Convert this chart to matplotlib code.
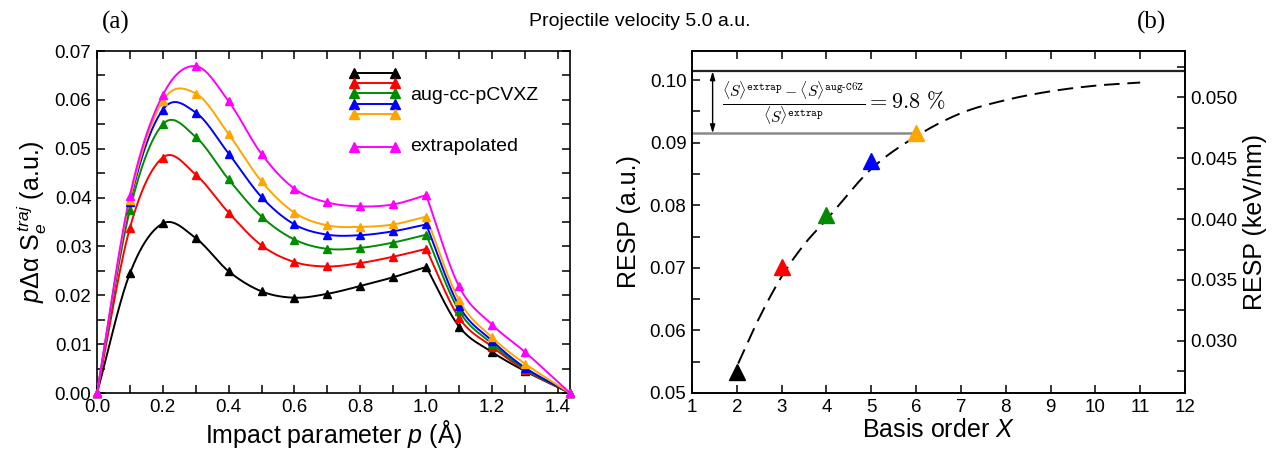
import numpy as np
import matplotlib
matplotlib.use("Agg")
import matplotlib.pyplot as plt
from matplotlib.ticker import MultipleLocator, FormatStrFormatter

# ---------------- data: panel (a) ----------------
impact_p = [0.0, 0.1, 0.2, 0.3, 0.4, 0.5, 0.6, 0.7, 0.8, 0.9, 1.0, 1.1, 1.2, 1.3, 1.437]
se_dz = [0, 0.0245, 0.0347, 0.0317, 0.0249, 0.0208, 0.0195, 0.0203, 0.0219, 0.0237, 0.0258, 0.0136, 0.0084, 0.0045, 0]
se_tz = [0, 0.0338, 0.0482, 0.0447, 0.0369, 0.0302, 0.0268, 0.0259, 0.0266, 0.0279, 0.0295, 0.0154, 0.0095, 0.0047, 0]
se_qz = [0, 0.0375, 0.0550, 0.0524, 0.0437, 0.0361, 0.0314, 0.0295, 0.0297, 0.0308, 0.0324, 0.0168, 0.0101, 0.0049, 0]
se_5z = [0, 0.0390, 0.0580, 0.0574, 0.0490, 0.0401, 0.0345, 0.0324, 0.0323, 0.0331, 0.0345, 0.0178, 0.0107, 0.0052, 0]
se_6z = [0, 0.0395, 0.0598, 0.0613, 0.0530, 0.0433, 0.0369, 0.0343, 0.0340, 0.0345, 0.0361, 0.0190, 0.0114, 0.0060, 0]
se_ex = [0, 0.0404, 0.0610, 0.0669, 0.0597, 0.0489, 0.0418, 0.0390, 0.0382, 0.0386, 0.0405, 0.0218, 0.0140, 0.0084, 0]
series_colors = ["black", "#ff0000", "#008c00", "#0000ff", "#ffa500", "#ff00ff"]
legend_main = "aug-cc-pCVXZ"
legend_extrap = "extrapolated"

# ---------------- data: panel (b) ----------------
basis_order = [2, 3, 4, 5, 6]
resp_basis = [0.0534, 0.0701, 0.0785, 0.0870, 0.0915]
resp_extrap = 0.1014
fit_x = [2.03, 2.5, 3, 3.5, 4, 5, 6, 7, 8, 9, 10, 11]
fit_y = [0.0547, 0.0620, 0.0686, 0.0737, 0.0777, 0.0858, 0.0910, 0.0947, 0.0968, 0.0982, 0.0991, 0.0996]
au_to_kev_nm = 0.51422

title_text = "Projectile velocity 5.0 a.u."


def hermite(x, y, n=25):
    """Cubic Hermite (Catmull-Rom like) curve through the points."""
    x = np.asarray(x, float)
    y = np.asarray(y, float)
    m = np.zeros_like(y)
    m[0] = (y[1] - y[0]) / (x[1] - x[0])
    m[-1] = (y[-1] - y[-2]) / (x[-1] - x[-2])
    if len(x) > 2:
        m[1:-1] = (y[2:] - y[:-2]) / (x[2:] - x[:-2])
    xs, ys = [], []
    for i in range(len(x) - 1):
        h = x[i + 1] - x[i]
        t = np.linspace(0, 1, n, endpoint=(i == len(x) - 2))
        h00 = 2 * t**3 - 3 * t**2 + 1
        h10 = t**3 - 2 * t**2 + t
        h01 = -2 * t**3 + 3 * t**2
        h11 = t**3 - t**2
        xs.append(x[i] + t * h)
        ys.append(h00 * y[i] + h10 * h * m[i] + h01 * y[i + 1] + h11 * h * m[i + 1])
    return np.concatenate(xs), np.concatenate(ys)


def smooth_pieces(x, y, breaks):
    """Smooth curve, with corners allowed at the given indices."""
    idx = [0] + list(breaks) + [len(x) - 1]
    xs, ys = [], []
    for a, b in zip(idx[:-1], idx[1:]):
        sx, sy = hermite(x[a:b + 1], y[a:b + 1])
        xs.append(sx)
        ys.append(sy)
    return np.concatenate(xs), np.concatenate(ys)


plt.rcParams["font.family"] = ["Liberation Sans", "DejaVu Sans"]
plt.rcParams["mathtext.fontset"] = "custom"
plt.rcParams["mathtext.rm"] = "Liberation Sans"
plt.rcParams["mathtext.it"] = "Liberation Sans:italic"
plt.rcParams["mathtext.bf"] = "Liberation Sans:bold"
plt.rcParams["axes.linewidth"] = 1.2

fig = plt.figure(figsize=(12.75, 4.49), dpi=100)
W, H = 1275.0, 449.0
axa = fig.add_axes([97 / W, 1 - 393 / H, (570 - 97) / W, (393 - 51) / H])
axb = fig.add_axes([692 / W, 1 - 393 / H, (1185 - 692) / W, (393 - 51) / H])

TICK_FS = 13.5
LABEL_FS = 18

# ---------------- panel (a) ----------------
all_series = [se_dz, se_tz, se_qz, se_5z, se_6z, se_ex]
peak_index = impact_p.index(1.0)
for ys, c in zip(all_series, series_colors):
    sx, sy = smooth_pieces(impact_p, ys, [peak_index])
    axa.plot(sx, sy, color=c, lw=1.4, zorder=3)
    axa.plot(impact_p, ys, ls="none", marker="^", ms=5.5, color=c, zorder=4, clip_on=False)

axa.set_xlim(0, 1.437)
axa.set_ylim(0, 0.07)
axa.xaxis.set_major_locator(MultipleLocator(0.2))
axa.xaxis.set_minor_locator(MultipleLocator(0.1))
axa.yaxis.set_major_locator(MultipleLocator(0.01))
axa.yaxis.set_minor_locator(MultipleLocator(0.005))
axa.xaxis.set_major_formatter(FormatStrFormatter("%.1f"))
axa.yaxis.set_major_formatter(FormatStrFormatter("%.2f"))
axa.tick_params(which="both", direction="in", top=True, right=True, labelsize=TICK_FS, width=1.1)
axa.tick_params(which="major", length=6, pad=4)
axa.tick_params(which="minor", length=6)
axa.set_xlabel(r"Impact parameter $p$ ($\mathrm{\AA}$)", fontsize=LABEL_FS, labelpad=2)
axa.set_ylabel(r"$p\Delta\mathrm{\alpha}\ \mathrm{S}_e^{\,traj}$ (a.u.)", fontsize=LABEL_FS, labelpad=4)

# manual legend (grouped)
leg_x = [0.543, 0.630]
leg_rows = [0.9365, 0.9055, 0.876, 0.845, 0.816]
for yy, c in zip(leg_rows, series_colors[:5]):
    axa.plot(leg_x, [yy, yy], color=c, lw=1.4, marker="^", ms=7, transform=axa.transAxes)
axa.plot(leg_x, [0.718, 0.718], color=series_colors[5], lw=1.4, marker="^", ms=7, transform=axa.transAxes)
axa.text(0.663, 0.871, legend_main, transform=axa.transAxes, fontsize=14, va="center", ha="left")
axa.text(0.663, 0.722, legend_extrap, transform=axa.transAxes, fontsize=14, va="center", ha="left")

# ---------------- panel (b) ----------------
fx, fy = hermite(fit_x, fit_y)
axb.plot(fx, fy, color="black", lw=1.4, ls=(0, (8, 4)), zorder=2)
axb.axhline(resp_extrap, color="#222222", lw=1.6, zorder=1)
axb.plot([1, basis_order[-1]], [resp_basis[-1], resp_basis[-1]], color="#8a8a8a", lw=1.8, zorder=1)
for xb, yb, c in zip(basis_order, resp_basis, series_colors[:5]):
    axb.plot([xb], [yb], ls="none", marker="^", ms=12, color=c, zorder=4)

axb.annotate("", xy=(1.46, resp_extrap), xytext=(1.46, resp_basis[-1]),
             arrowprops=dict(arrowstyle="<|-|>,head_length=0.5,head_width=0.15", lw=1.0,
                             color="black", shrinkA=0, shrinkB=0))
frac = (r"$\frac{\langle S\rangle^{\mathtt{extrap}}-\langle S\rangle^{\mathtt{aug\text{-}C6Z}}}"
        r"{\langle S\rangle^{\mathtt{extrap}}}=9.8\ \%$")
axb.text(1.68, 0.0962, frac, fontsize=16, va="center", ha="left", math_fontfamily="cm")

axb.set_xlim(1, 12)
axb.set_ylim(0.05, 0.10464)
axb.xaxis.set_major_locator(MultipleLocator(1))
axb.yaxis.set_major_locator(MultipleLocator(0.01))
axb.yaxis.set_minor_locator(MultipleLocator(0.005))
axb.yaxis.set_major_formatter(FormatStrFormatter("%.2f"))
axb.tick_params(which="both", direction="in", top=True, right=False, labelsize=TICK_FS, width=1.1)
axb.tick_params(which="major", length=6, pad=4)
axb.tick_params(which="minor", length=6)
axb.set_xlabel(r"Basis order $X$", fontsize=LABEL_FS, labelpad=2)
axb.set_ylabel("RESP (a.u.)", fontsize=LABEL_FS, labelpad=6)

axt = axb.twinx()
lo, hi = axb.get_ylim()
axt.set_ylim(lo * au_to_kev_nm, hi * au_to_kev_nm)
axt.yaxis.set_major_locator(MultipleLocator(0.005))
axt.yaxis.set_minor_locator(MultipleLocator(0.0025))
axt.yaxis.set_major_formatter(FormatStrFormatter("%.3f"))
axt.tick_params(which="both", direction="in", labelsize=TICK_FS, width=1.1, length=6)
axt.set_ylabel("RESP (keV/nm)", fontsize=LABEL_FS, labelpad=4)

# ---------------- figure texts ----------------
fig.text(116 / W, 1 - 22 / H, "(a)", fontsize=18, family="Liberation Serif", ha="center", va="center")
fig.text(1152 / W, 1 - 22 / H, "(b)", fontsize=18, family="Liberation Serif", ha="center", va="center")
fig.text(640 / W, 1 - 22 / H, title_text, fontsize=14, ha="center", va="center")

fig.savefig("out.png", dpi=100)
